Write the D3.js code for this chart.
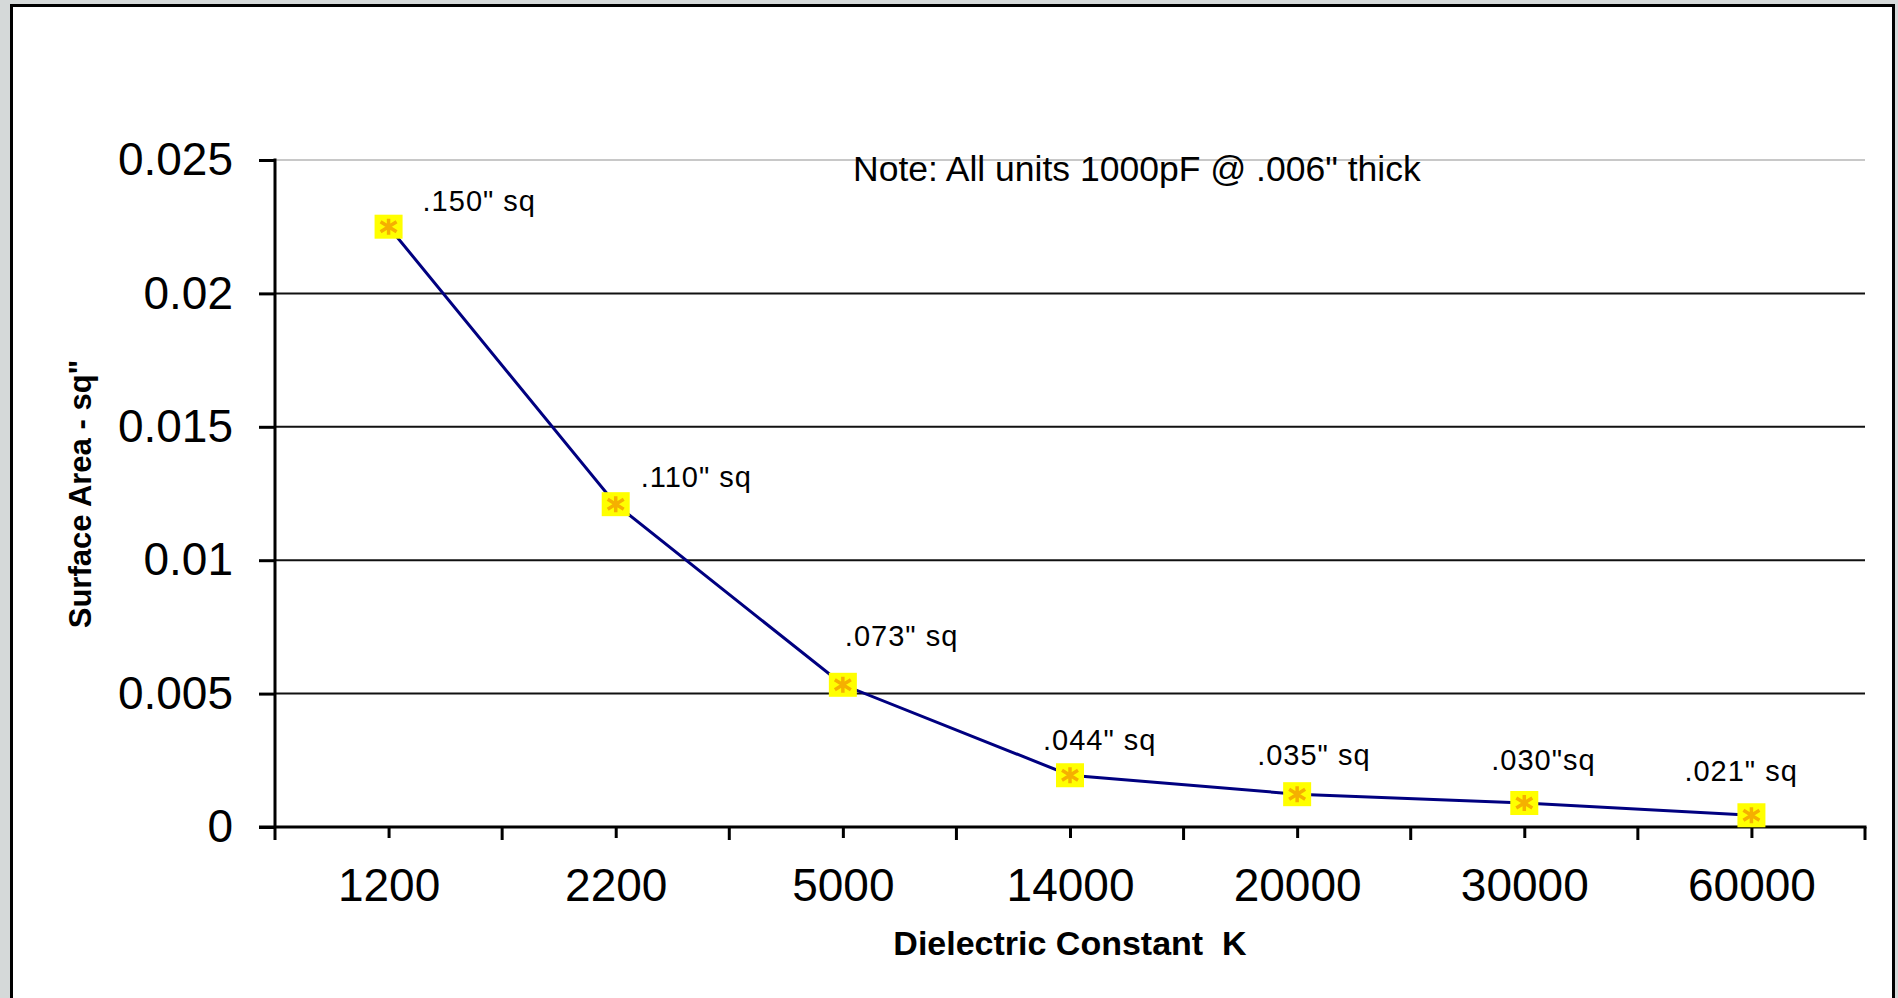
<!DOCTYPE html>
<html>
<head>
<meta charset="utf-8">
<script src="https://d3js.org/d3.v7.min.js"></script>
<style>
body { margin: 0; background: #d5d9d9; }
svg { display: block; }
text { font-family: "Liberation Sans", Arial, sans-serif; fill: #000; white-space: pre; }
</style>
</head>
<body>
<svg id="chart" width="1898" height="998"></svg>
<script>
// data (area = side^2)
var categories = ["1200", "2200", "5000", "14000", "20000", "30000", "60000"];
var surfaceArea = [0.0225, 0.0121, 0.00533, 0.00194, 0.00123, 0.0009, 0.00044];
var pointLabels = ['.150" sq', '.110" sq', '.073" sq', '.044" sq', '.035" sq', '.030"sq', '.021" sq'];
var yTicks = [0, 0.005, 0.01, 0.015, 0.02, 0.025];
var yTickLabels = ["0", "0.005", "0.01", "0.015", "0.02", "0.025"];

// where each label sits relative to its point (layout only)
var labelOffsets = [[34, -16], [25, -17], [2, -39], [-27, -25], [-40, -29], [-33, -33], [-67, -34]];

var svg = d3.select("#chart");
var plotLeft = 275, plotRight = 1865, plotTop = 160, plotBottom = 827;

// frame
svg.append("rect")
    .attr("x", 11.5).attr("y", 5.5)
    .attr("width", 1882).attr("height", 1000)
    .attr("fill", "#fff")
    .attr("stroke", "#000")
    .attr("stroke-width", 3);

var x = d3.scalePoint().domain(categories).range([plotLeft, plotRight]).padding(0.5);
var xBand = d3.scaleBand().domain(categories).range([plotLeft, plotRight]);
var y = d3.scaleLinear().domain([0, 0.025]).range([plotBottom, plotTop]);

// grid lines
svg.append("g").selectAll("line")
    .data(yTicks.filter(function (d) { return d > 0; }))
    .enter().append("line")
    .attr("x1", plotLeft).attr("x2", plotRight)
    .attr("y1", function (d) { return y(d); })
    .attr("y2", function (d) { return y(d); })
    .attr("stroke", function (d) { return d === 0.025 ? "#c8c8c8" : "#111"; })
    .attr("stroke-width", 2);

// y axis
var yAxis = svg.append("g")
    .attr("transform", "translate(" + plotLeft + ",0)")
    .call(d3.axisLeft(y).tickValues(yTicks)
        .tickFormat(function (d, i) { return yTickLabels[i]; })
        .tickSize(16).tickPadding(26));
yAxis.select(".domain").remove();
yAxis.selectAll(".tick line").attr("stroke", "#000").attr("stroke-width", 3);
yAxis.selectAll("text").attr("font-size", 46).attr("font-family", '"Liberation Sans", Arial, sans-serif');

svg.append("line")
    .attr("x1", plotLeft).attr("x2", plotLeft)
    .attr("y1", plotTop - 1.5).attr("y2", plotBottom + 13)
    .attr("stroke", "#000").attr("stroke-width", 3);

// x axis
var xAxis = svg.append("g")
    .attr("transform", "translate(0," + plotBottom + ")")
    .call(d3.axisBottom(x).tickSize(11).tickPadding(30));
xAxis.select(".domain").remove();
xAxis.selectAll(".tick line").attr("stroke", "#000").attr("stroke-width", 3);
xAxis.selectAll("text").attr("font-size", 46).attr("font-family", '"Liberation Sans", Arial, sans-serif');

svg.append("g").selectAll("line")
    .data(categories.slice(1).concat(["end"]))
    .enter().append("line")
    .attr("x1", function (d) { return d === "end" ? plotRight : xBand(d); })
    .attr("x2", function (d) { return d === "end" ? plotRight : xBand(d); })
    .attr("y1", plotBottom).attr("y2", plotBottom + 13)
    .attr("stroke", "#000").attr("stroke-width", 3);

svg.append("line")
    .attr("x1", plotLeft - 16).attr("x2", plotRight + 1.5)
    .attr("y1", plotBottom).attr("y2", plotBottom)
    .attr("stroke", "#000").attr("stroke-width", 3);

// series line
var line = d3.line()
    .x(function (d, i) { return x(categories[i]); })
    .y(function (d) { return y(d); });

svg.append("path")
    .datum(surfaceArea)
    .attr("d", line)
    .attr("fill", "none")
    .attr("stroke", "#000080")
    .attr("stroke-width", 3);

// markers: yellow square with orange star
var marks = svg.append("g").selectAll("g")
    .data(surfaceArea)
    .enter().append("g")
    .attr("transform", function (d, i) {
        return "translate(" + x(categories[i]) + "," + y(d) + ")";
    });
marks.append("rect")
    .attr("x", -14).attr("y", -12)
    .attr("width", 28).attr("height", 24)
    .attr("fill", "#ffff00");
marks.append("path")
    .attr("d", "M0,-8L0,8M-8,-5L8,5M-8,5L8,-5")
    .attr("stroke", "#f5b000")
    .attr("stroke-width", 3.5);

// point labels
svg.append("g").selectAll("text")
    .data(surfaceArea)
    .enter().append("text")
    .attr("x", function (d, i) { return x(categories[i]) + labelOffsets[i][0]; })
    .attr("y", function (d, i) { return y(d) + labelOffsets[i][1]; })
    .attr("font-size", 29)
    .attr("letter-spacing", 1)
    .text(function (d, i) { return pointLabels[i]; });

// titles and note
svg.append("text")
    .attr("x", 853).attr("y", 181)
    .attr("font-size", 35.5)
    .text('Note: All units 1000pF @ .006" thick');

svg.append("text")
    .attr("x", (plotLeft + plotRight) / 2).attr("y", 955)
    .attr("text-anchor", "middle")
    .attr("font-size", 34)
    .attr("font-weight", "bold")
    .text("Dielectric Constant  K");

svg.append("text")
    .attr("transform", "translate(91,494) rotate(-90)")
    .attr("text-anchor", "middle")
    .attr("font-size", 31)
    .attr("font-weight", "bold")
    .text('Surface Area - sq"');
</script>
</body>
</html>
